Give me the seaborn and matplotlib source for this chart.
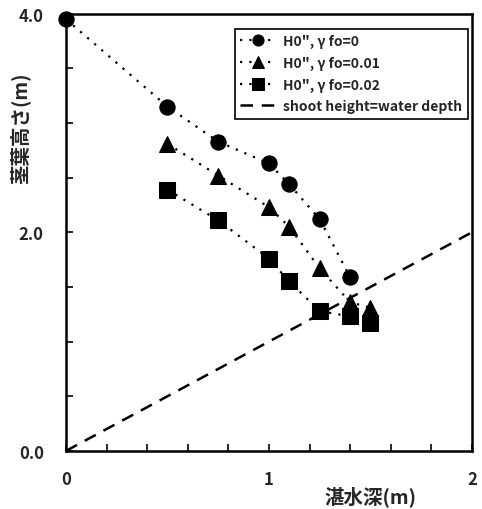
import matplotlib
matplotlib.use("Agg")
import matplotlib.pyplot as plt
import seaborn as sns
import pandas as pd
import numpy as np

# Shoot height versus water depth for three friction settings
depth_fo0 = [0.0, 0.5, 0.75, 1.0, 1.1, 1.25, 1.4]
height_fo0 = [3.95, 3.15, 2.83, 2.63, 2.44, 2.12, 1.59]

depth_fo001 = [0.5, 0.75, 1.0, 1.1, 1.25, 1.4, 1.5]
height_fo001 = [2.81, 2.52, 2.23, 2.05, 1.67, 1.36, 1.31]

depth_fo002 = [0.5, 0.75, 1.0, 1.1, 1.25, 1.4, 1.5]
height_fo002 = [2.39, 2.11, 1.76, 1.55, 1.28, 1.23, 1.17]

series_labels = ['H0", γ fo=0', 'H0", γ fo=0.01', 'H0", γ fo=0.02']
reference_label = "shoot height=water depth"
reference_line = [0.0, 2.0]

xticks = [0, 1, 2]
yticks = [0.0, 2.0, 4.0]

sns.set_theme(style="white")
plt.rcParams["font.family"] = ["Noto Sans CJK JP", "DejaVu Sans"]
plt.rcParams["font.weight"] = "bold"

frames = []
for lab, xs, ys in zip(series_labels,
                       [depth_fo0, depth_fo001, depth_fo002],
                       [height_fo0, height_fo001, height_fo002]):
    frames.append(pd.DataFrame({"depth": xs, "height": ys, "series": lab}))
df = pd.concat(frames, ignore_index=True)

fig = plt.figure(figsize=(4.82, 5.10), dpi=100)
ax = fig.add_axes([0.137, 0.114, 0.842, 0.857])

markers = {series_labels[0]: "o", series_labels[1]: "^", series_labels[2]: "s"}
sns.lineplot(data=df, x="depth", y="height", hue="series", style="series",
             markers=markers, dashes=False, palette=["black"] * 3,
             sort=False, estimator=None, ax=ax, markersize=11,
             markeredgecolor="black", linewidth=0)
# dotted connecting lines
for line in ax.get_lines():
    line.set_linestyle((0, (1, 3.2)))
    line.set_linewidth(1.6)
    line.set_clip_on(False)

sns.lineplot(x=reference_line, y=reference_line, color="black", ax=ax,
             label=reference_label, linewidth=1.8)
ax.get_lines()[-1].set_linestyle((0, (5, 3.5)))

ax.set_xlim(0, 2)
ax.set_ylim(0, 4)
ax.set_xticks(xticks)
ax.set_xticklabels([str(t) for t in xticks], fontsize=12, fontweight="bold")
ax.set_yticks(yticks)
ax.set_yticklabels([f"{t:.1f}" for t in yticks], fontsize=12, fontweight="bold")
ax.set_xticks(np.arange(0, 2.01, 0.2), minor=True)
ax.set_yticks(np.arange(0, 4.01, 0.5), minor=True)
ax.tick_params(which="both", direction="in", length=5, width=1.2, color="black",
               left=True, bottom=True, pad=14)
ax.tick_params(axis="y", pad=16)

for sp in ax.spines.values():
    sp.set_color("black")
    sp.set_linewidth(1.8)

ax.set_xlabel("湛水深(m)", fontsize=14, fontweight="bold")
ax.set_ylabel("茎葉高さ(m)", fontsize=14, fontweight="bold")
ax.xaxis.set_label_coords(0.75, -0.078)
ax.yaxis.set_label_coords(-0.088, 0.74)

handles, labels = ax.get_legend_handles_labels()
leg = ax.legend(handles, labels, loc="upper right", bbox_to_anchor=(0.99, 0.966),
                frameon=True, fancybox=False, edgecolor="black", framealpha=1,
                prop={"size": 10, "weight": "bold"}, handlelength=2.6,
                borderpad=0.4, labelspacing=0.55, handletextpad=0.5,
                borderaxespad=0)
leg.get_frame().set_linewidth(1.2)
for h in leg.legend_handles:
    h.set_markersize(8)

fig.savefig("out.png", dpi=100)
